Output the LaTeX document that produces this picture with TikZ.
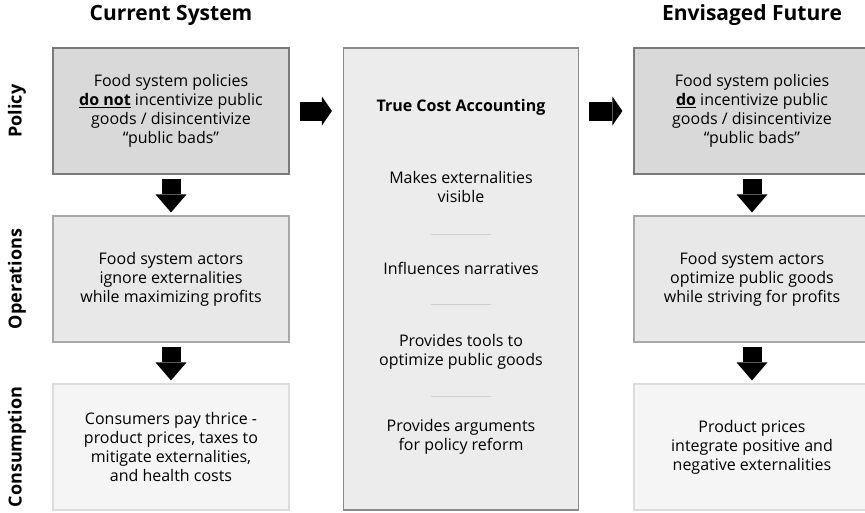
\documentclass[tikz,border=0pt]{standalone}
\usepackage{fontspec}
\setmainfont{Open Sans}
\usetikzlibrary{positioning,arrows.meta}
\definecolor{polfill}{HTML}{D9D9D9}
\definecolor{poldraw}{HTML}{7A7A7A}
\definecolor{opsfill}{HTML}{E8E8E8}
\definecolor{opsdraw}{HTML}{A8A8A8}
\definecolor{consfill}{HTML}{F5F5F5}
\definecolor{consdraw}{HTML}{DCDCDC}
\definecolor{tcafill}{HTML}{ECECEC}
\definecolor{tcadraw}{HTML}{8A8A8A}
\definecolor{sepgray}{HTML}{D0D0D0}

\begin{document}
\begin{tikzpicture}
[
  x=1pt, y=1pt,
  node distance=168pt,
  on grid,
  font=\fontsize{16}{19}\selectfont,
  box/.style={rectangle, minimum width=236pt, minimum height=126pt, align=center, line width=1.2pt},
  polbox/.style={box, fill=polfill, draw=poldraw},
  opsbox/.style={box, fill=opsfill, draw=opsdraw},
  consbox/.style={box, fill=consfill, draw=consdraw},
  title/.style={font=\fontsize{21}{25}\selectfont\bfseries},
  rowlabel/.style={rotate=90, font=\fontsize{18}{21}\selectfont\bfseries},
  downarrow/.style={line width=19pt, -{Triangle[length=18pt,width=31pt,line width=0pt]}, shorten <=4pt, shorten >=3pt},
  rightarrow/.style={line width=19pt, -{Triangle[length=10pt,width=29pt,line width=0pt]}, shorten <=10pt, shorten >=11pt},
  sepline/.style={draw=sepgray, line width=0.8pt}
]
 \useasboundingbox (0,0) rectangle (865,-512);

 \node[polbox] (cpol) at (171,-111) {Food system policies\\\underline{\textbf{do not}} incentivize public\\goods / disincentivize\\“public bads”};
 \node[opsbox] (cops) [below=of cpol] {Food system actors\\ignore externalities\\while maximizing profits};
 \node[consbox] (ccons) [below=of cops] {Consumers pay thrice -\\product prices, taxes to\\mitigate externalities,\\and health costs};

 \node[title] (cur) [above=96pt of cpol] {Current System};
 \node[rowlabel] (lpol) [left=154pt of cpol] {Policy};
 \node[rowlabel] (lops) [left=154pt of cops] {Operations};
 \node[rowlabel] (lcons) [left=154pt of ccons] {Consumption};

 \node[box, minimum width=235pt, minimum height=462pt, fill=tcafill, draw=tcadraw] (tca) [below right=168pt and 290pt of cpol] {};
 \node[font=\fontsize{16}{19}\selectfont\bfseries] (tcat) [above=172pt of tca] {True Cost Accounting};
 \node[align=center] (t1) [above=92pt of tca] {Makes externalities\\visible};
 \coordinate[above=45pt of tca] (s1);
 \node (t2) [above=11pt of tca] {Influences narratives};
 \coordinate[below=25pt of tca] (s2);
 \node[align=center] (t3) [below=72.5pt of tca] {Provides tools to\\optimize public goods};
 \coordinate[below=117pt of tca] (s3);
 \node[align=center] (t4) [below=157.5pt of tca] {Provides arguments\\for policy reform};
 \draw[sepline] ([xshift=-30pt]s1) -- ([xshift=30pt]s1);
 \draw[sepline] ([xshift=-30pt]s2) -- ([xshift=30pt]s2);
 \draw[sepline] ([xshift=-30pt]s3) -- ([xshift=30pt]s3);

 \node[polbox] (fpol) [right=581pt of cpol] {Food system policies\\\underline{\textbf{do}} incentivize public\\goods / disincentivize\\“public bads”};
 \node[opsbox] (fops) [below=of fpol] {Food system actors\\optimize public goods\\while striving for profits};
 \node[consbox] (fcons) [below=of fops] {Product prices\\integrate positive and\\negative externalities};
 \node[title] (fut) [above=96pt of fpol] {Envisaged Future};

 \draw[downarrow] (cpol) -- (cops);
 \draw[downarrow] (cops) -- (ccons);
 \draw[downarrow] (fpol) -- (fops);
 \draw[downarrow] (fops) -- (fcons);
 \draw[rightarrow] (cpol.east) -- (cpol.east -| tca.west);
 \draw[rightarrow] (tca.east |- fpol.west) -- (fpol.west);
\end{tikzpicture}
\end{document}
